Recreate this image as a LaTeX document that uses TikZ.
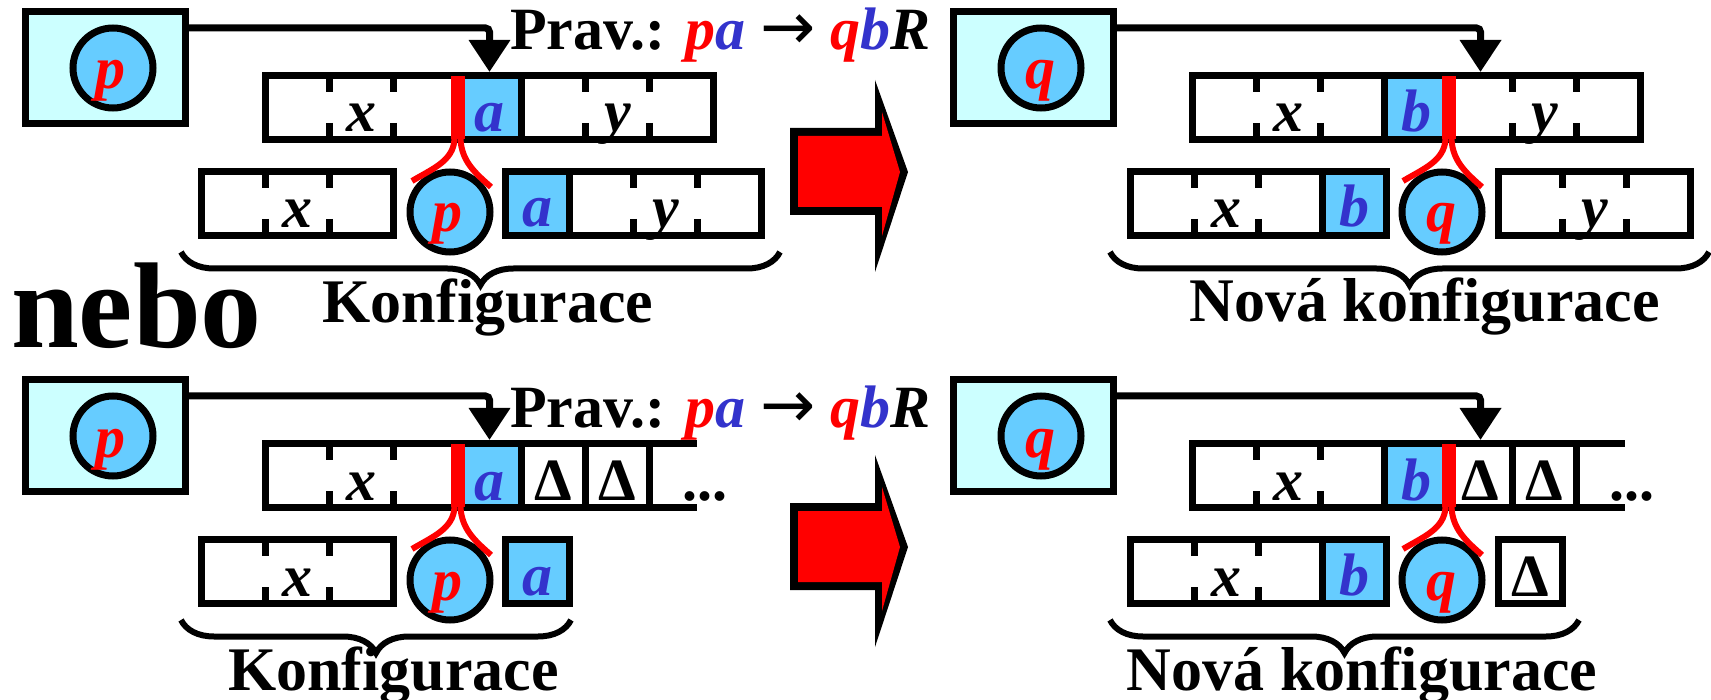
\documentclass[tikz,border=0pt]{standalone}
\usepackage{fontspec}
\setmainfont{Liberation Serif}
\newfontfamily\arrowfont{DejaVu Sans}
\usetikzlibrary{arrows.meta,decorations.pathreplacing}
\definecolor{boxcyan}{HTML}{CCFFFF}
\definecolor{cellblue}{HTML}{66CCFF}
\definecolor{symblue}{HTML}{3333CC}
\newcommand{\RuleArrow}{{\arrowfont\mdseries\upshape\fontsize{66}{80}\selectfont →}}
\begin{document}
\begin{tikzpicture}[x=1pt,y=-1pt,
  statebox/.style={draw, line width=7pt, fill=boxcyan, minimum width=160pt, minimum height=112pt, inner sep=0},
  headcirc/.style={draw, line width=7pt, fill=cellblue, circle, minimum size=80pt, inner sep=0},
  tape/.style={line width=7pt, line join=miter},
  tick/.style={line width=7pt},
  bluecell/.style={fill=cellblue, minimum width=64pt, minimum height=64pt, inner sep=0, outer sep=3.5pt},
  emptycell/.style={minimum width=64pt, minimum height=64pt, inner sep=0, outer sep=3.5pt},
  head/.style={fill=red, minimum width=14pt, minimum height=63pt, inner sep=0, outer sep=0},
  fork/.style={draw=red, line width=6pt},
  ctrl/.style={line width=7pt, rounded corners=4pt, -{Triangle[length=32pt,width=40pt]}},
  sym/.style={font=\fontsize{60}{72}\selectfont\bfseries\itshape, inner sep=0, anchor=base},
  dlt/.style={font=\fontsize{60}{72}\selectfont\bfseries, inner sep=0, anchor=base},
  lbl/.style={font=\fontsize{62}{74}\selectfont\bfseries, inner sep=0, anchor=base},
  brc/.style={decorate, decoration={brace, amplitude=33pt}, line width=6pt},
]
\useasboundingbox (0,0) rectangle (1711,700);

% ---------------- nebo ----------------
\node[font=\fontsize{122}{140}\selectfont\bfseries, inner sep=0, anchor=base] (nebo) at (136.5,348) {nebo};

% ---------------- rule text ----------------
\node[dlt, anchor=base west] (ruleT) at (510,50) {Prav.: \textcolor{red}{\textit{p}}\textcolor{symblue}{\textit{a}} \RuleArrow{} \textcolor{red}{\textit{q}}\textcolor{symblue}{\textit{b}}\textit{R}};
\node[dlt, anchor=base west] (ruleB) at (510,428) {Prav.: \textcolor{red}{\textit{p}}\textcolor{symblue}{\textit{a}} \RuleArrow{} \textcolor{red}{\textit{q}}\textcolor{symblue}{\textit{b}}\textit{R}};

% ---------------- big red arrows ----------------
\foreach \dy in {0,375} {
  \begin{scope}[shift={(0,\dy)}]
    \fill[black] (790,128) -- (875,128) -- (875,80) -- (908,172) -- (875,272) -- (875,215) -- (790,215) -- cycle;
    \fill[red] (798,136) -- (882,136) -- (882,112) -- (900,172) -- (882,236) -- (882,207) -- (798,207) -- cycle;
  \end{scope}
}

% ================= TOP LEFT =================
\node[statebox] (sTL) at (105.5,67.5) {};
\node[headcirc] (cTL) at (113,68) {};
\node[sym, red] (pTL) at (110,89) {p};
\node[bluecell] (aTL) at (489.5,107.5) {};
\draw[tape] (265.5,75.5) rectangle (713.5,139.5);
\draw[tape] (521.5,75.5) -- (521.5,139.5);
\foreach \t in {329.5,393.5,585.5,649.5} \draw[tick] (\t,75.5) -- (\t,92) (\t,123) -- (\t,139.5);
\node[sym] (xTL) at (361.5,132) {x};
\node[sym, text=symblue] (laTL) at (489.5,132) {a};
\node[sym] (yTL) at (617.5,132) {y};
\node[head] (hTL) at (457.5,107.5) {};
\draw[ctrl] ([yshift=-20pt]sTL.north east) -| (aTL.north);
% lower
\draw[tape] (201.5,171.5) rectangle (393.5,235.5);
\foreach \t in {265.5,329.5} \draw[tick] (\t,171.5) -- (\t,188) (\t,219) -- (\t,235.5);
\node[sym] (x2TL) at (297.5,228) {x};
\node[headcirc] (c2TL) at (450,212) {};
\node[sym, red] (p2TL) at (447,232) {p};
\node[bluecell] (a2TL) at (537.5,203.5) {};
\draw[tape] (505.5,171.5) rectangle (761.5,235.5);
\draw[tape] (569.5,171.5) -- (569.5,235.5);
\foreach \t in {633.5,697.5} \draw[tick] (\t,171.5) -- (\t,188) (\t,219) -- (\t,235.5);
\node[sym, text=symblue] (la2TL) at (537.5,227) {a};
\node[sym] (y2TL) at (665.5,228) {y};
\coordinate (flTL) at (412,181);
\coordinate (frTL) at (491,187);
\draw[fork] ([xshift=-3pt]hTL.south) .. controls +(-1,22) and +(20,-12) .. (flTL);
\draw[fork] ([xshift=3pt]hTL.south) .. controls +(1,22) and +(-16,-14) .. (frTL);
\draw[brc] (780,252) -- (181,252);
\node[lbl] (kTL) at (488,323) {Konfigurace};

% ================= TOP RIGHT =================
\node[statebox] (sTR) at (1033.5,67.5) {};
\node[headcirc] (cTR) at (1041,68) {};
\node[sym, red] (qTR) at (1040,89) {q};
\node[bluecell] (bTR) at (1416.5,107.5) {};
\node[emptycell] (tTR) at (1480.5,107.5) {};
\draw[tape] (1192.5,75.5) rectangle (1640.5,139.5);
\draw[tape] (1384.5,75.5) -- (1384.5,139.5);
\foreach \t in {1256.5,1320.5,1512.5,1576.5} \draw[tick] (\t,75.5) -- (\t,92) (\t,123) -- (\t,139.5);
\node[sym] (xTR) at (1288.5,132) {x};
\node[sym, text=symblue] (lbTR) at (1416.5,132) {b};
\node[sym] (yTR) at (1544.5,132) {y};
\node[head] (hTR) at (1448.5,107.5) {};
\draw[ctrl] ([yshift=-20pt]sTR.north east) -| (tTR.north);
% lower
\node[bluecell] (b2TR) at (1354.5,203.5) {};
\draw[tape] (1130.5,171.5) rectangle (1386.5,235.5);
\draw[tape] (1322.5,171.5) -- (1322.5,235.5);
\foreach \t in {1194.5,1258.5} \draw[tick] (\t,171.5) -- (\t,188) (\t,219) -- (\t,235.5);
\node[sym] (x2TR) at (1226.5,228) {x};
\node[sym, text=symblue] (lb2TR) at (1354.5,227) {b};
\node[headcirc] (c2TR) at (1442,212) {};
\node[sym, red] (q2TR) at (1441,232) {q};
\draw[tape] (1498.5,171.5) rectangle (1690.5,235.5);
\foreach \t in {1562.5,1626.5} \draw[tick] (\t,171.5) -- (\t,188) (\t,219) -- (\t,235.5);
\node[sym] (y2TR) at (1594.5,228) {y};
\coordinate (flTR) at (1403,181);
\coordinate (frTR) at (1482,187);
\draw[fork] ([xshift=-3pt]hTR.south) .. controls +(-1,22) and +(20,-12) .. (flTR);
\draw[fork] ([xshift=3pt]hTR.south) .. controls +(1,22) and +(-16,-14) .. (frTR);
\draw[brc] (1709,252) -- (1110,252);
\node[lbl] (kTR) at (1424.5,322) {Nová konfigurace};

% ================= BOTTOM LEFT =================
\begin{scope}[shift={(0,368)}]
\node[statebox] (sBL) at (105.5,67.5) {};
\node[headcirc] (cBL) at (113,68) {};
\node[sym, red] (pBL) at (110,89) {p};
\node[bluecell] (aBL) at (489.5,107.5) {};
\draw[tape] (697,75.5) -- (265.5,75.5) -- (265.5,139.5) -- (697,139.5);
\foreach \t in {521.5,585.5,649.5} \draw[tape] (\t,75.5) -- (\t,139.5);
\foreach \t in {329.5,393.5} \draw[tick] (\t,75.5) -- (\t,92) (\t,123) -- (\t,139.5);
\node[sym] (xBL) at (361.5,132) {x};
\node[sym, text=symblue] (laBL) at (489.5,132) {a};
\node[dlt] (d1BL) at (553.5,132) {Δ};
\node[dlt] (d2BL) at (617.5,132) {Δ};
\node[dlt] (dotsBL) at (705,132) {...};
\node[head] (hBL) at (457.5,107.5) {};
\draw[ctrl] ([yshift=-20pt]sBL.north east) -| (aBL.north);
% lower
\draw[tape] (201.5,171.5) rectangle (393.5,235.5);
\foreach \t in {265.5,329.5} \draw[tick] (\t,171.5) -- (\t,188) (\t,219) -- (\t,235.5);
\node[sym] (x2BL) at (297.5,228) {x};
\node[headcirc] (c2BL) at (450,212) {};
\node[sym, red] (p2BL) at (447,232) {p};
\node[bluecell] (a2BL) at (537.5,203.5) {};
\draw[tape] (505.5,171.5) rectangle (569.5,235.5);
\node[sym, text=symblue] (la2BL) at (537.5,227) {a};
\coordinate (flBL) at (412,181);
\coordinate (frBL) at (491,187);
\draw[fork] ([xshift=-3pt]hBL.south) .. controls +(-1,22) and +(20,-12) .. (flBL);
\draw[fork] ([xshift=3pt]hBL.south) .. controls +(1,22) and +(-16,-14) .. (frBL);
\draw[brc] (571,252) -- (181,252);
\node[lbl] (kBL) at (393.5,322) {Konfigurace};
\end{scope}

% ================= BOTTOM RIGHT =================
\begin{scope}[shift={(0,368)}]
\node[statebox] (sBR) at (1033.5,67.5) {};
\node[headcirc] (cBR) at (1041,68) {};
\node[sym, red] (qBR) at (1040,89) {q};
\node[bluecell] (bBR) at (1416.5,107.5) {};
\node[emptycell] (tBR) at (1480.5,107.5) {};
\draw[tape] (1624.5,75.5) -- (1192.5,75.5) -- (1192.5,139.5) -- (1624.5,139.5);
\foreach \t in {1384.5,1512.5,1576.5} \draw[tape] (\t,75.5) -- (\t,139.5);
\foreach \t in {1256.5,1320.5} \draw[tick] (\t,75.5) -- (\t,92) (\t,123) -- (\t,139.5);
\node[sym] (xBR) at (1288.5,132) {x};
\node[sym, text=symblue] (lbBR) at (1416.5,132) {b};
\node[dlt] (d1BR) at (1480.5,132) {Δ};
\node[dlt] (d2BR) at (1544.5,132) {Δ};
\node[dlt] (dotsBR) at (1632,132) {...};
\node[head] (hBR) at (1448.5,107.5) {};
\draw[ctrl] ([yshift=-20pt]sBR.north east) -| (tBR.north);
% lower
\node[bluecell] (b2BR) at (1354.5,203.5) {};
\draw[tape] (1130.5,171.5) rectangle (1386.5,235.5);
\draw[tape] (1322.5,171.5) -- (1322.5,235.5);
\foreach \t in {1194.5,1258.5} \draw[tick] (\t,171.5) -- (\t,188) (\t,219) -- (\t,235.5);
\node[sym] (x2BR) at (1226.5,228) {x};
\node[sym, text=symblue] (lb2BR) at (1354.5,227) {b};
\node[headcirc] (c2BR) at (1442,212) {};
\node[sym, red] (q2BR) at (1441,232) {q};
\draw[tape] (1498.5,171.5) rectangle (1562.5,235.5);
\node[dlt] (d3BR) at (1530.5,228) {Δ};
\coordinate (flBR) at (1403,181);
\coordinate (frBR) at (1482,187);
\draw[fork] ([xshift=-3pt]hBR.south) .. controls +(-1,22) and +(20,-12) .. (flBR);
\draw[fork] ([xshift=3pt]hBR.south) .. controls +(1,22) and +(-16,-14) .. (frBR);
\draw[brc] (1579,252) -- (1110,252);
\node[lbl] (kBR) at (1362,322) {Nová konfigurace};
\end{scope}
\end{tikzpicture}
\end{document}
